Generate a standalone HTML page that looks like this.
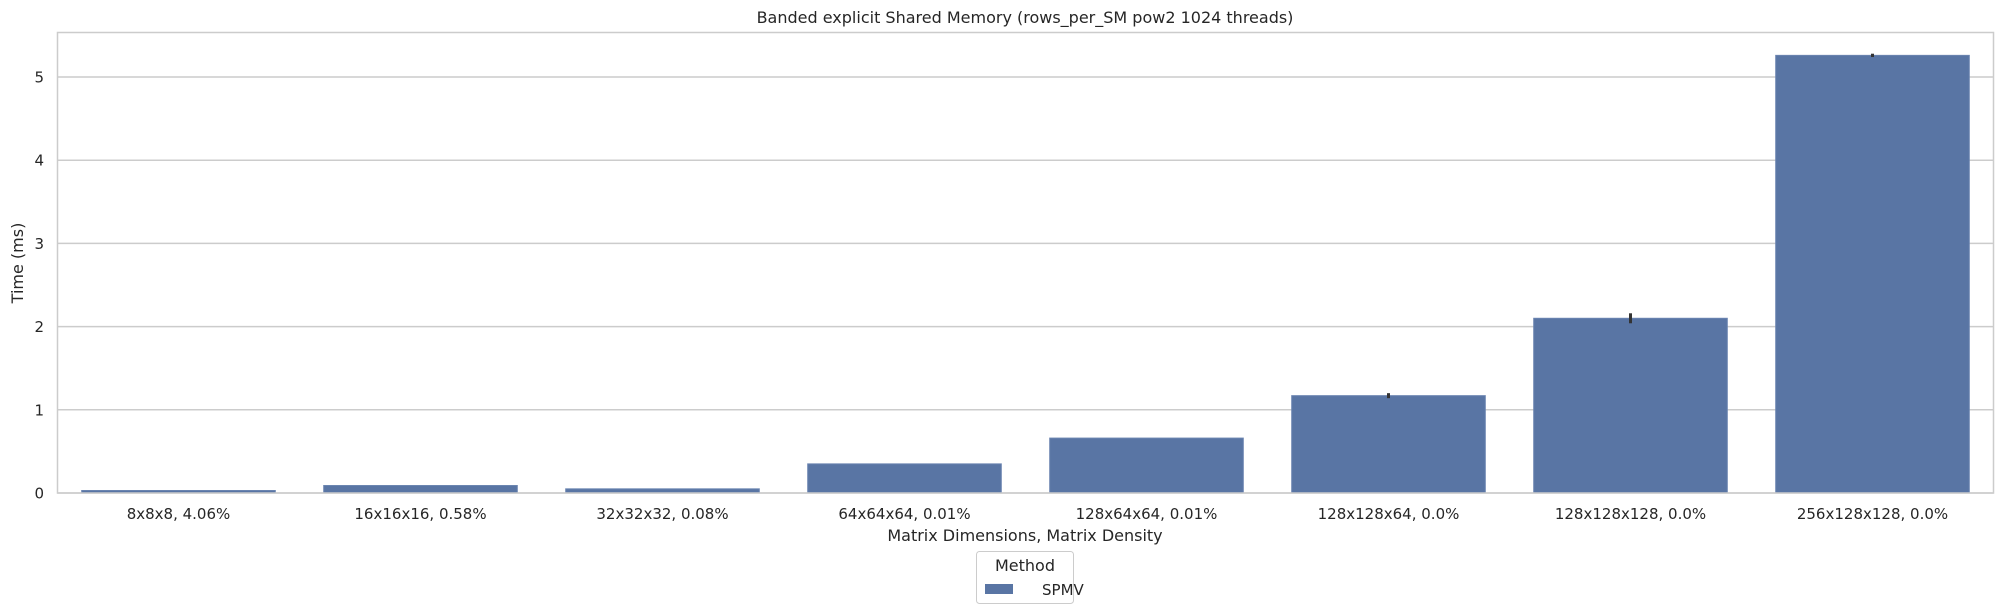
<!DOCTYPE html>
<html><head><meta charset="utf-8"><style>
body{margin:0;background:#fff;}
svg{display:block;font-family:"DejaVu Sans","Liberation Sans",sans-serif;}
</style></head><body>
<svg width="2004" height="614" xmlns="http://www.w3.org/2000/svg" id="chart">
<rect x="0" y="0" width="2004" height="614" fill="#fff"/>
<g id="grid"></g><g id="bars"></g><g id="labels"></g>
<rect x="57.5" y="32.5" width="1936" height="460.5" fill="none" stroke="#cccccc" stroke-width="1.5"/>
<text x="1025" y="23" text-anchor="middle" font-size="16" fill="#262626">Banded explicit Shared Memory (rows_per_SM pow2 1024 threads)</text>
<text x="1025" y="541" text-anchor="middle" font-size="16" fill="#262626">Matrix Dimensions, Matrix Density</text>
<text transform="translate(23,263) rotate(-90)" text-anchor="middle" font-size="16" fill="#262626">Time (ms)</text>
<g>
<rect x="976.5" y="551.5" width="97" height="52" rx="3" fill="#fff" stroke="#cccccc"/>
<text x="1025" y="571" text-anchor="middle" font-size="16" fill="#262626">Method</text>
<rect x="985" y="584" width="28" height="10" fill="#5975a4"/>
<text x="1042" y="595" font-size="15" fill="#262626">SPMV</text>
</g>
</svg>
<script>
const categories=["8x8x8, 4.06%","16x16x16, 0.58%","32x32x32, 0.08%","64x64x64, 0.01%","128x64x64, 0.01%","128x128x64, 0.0%","128x128x128, 0.0%","256x128x128, 0.0%"];
const values=[0.03,0.09,0.05,0.35,0.66,1.17,2.10,5.26];
const errors=[0,0,0,0,0,0.03,0.06,0.02];
const yTicks=[0,1,2,3,4,5];
const NS="http://www.w3.org/2000/svg";
const L=57.5,R=1993.5,B=493,PU=83.2;
const slot=(R-L)/categories.length;
function x(i){return L+slot*(i+0.5);}
function y(v){return B-v*PU;}
const grid=document.getElementById('grid'),bars=document.getElementById('bars'),labels=document.getElementById('labels');
function mk(tag,attrs,parent){const e=document.createElementNS(NS,tag);for(const k in attrs)e.setAttribute(k,attrs[k]);parent.appendChild(e);return e;}
yTicks.forEach(t=>{
  const g=mk('line',{x1:L,x2:R,y1:y(t),y2:y(t),stroke:'#cccccc','stroke-width':1.5},grid);
  
  
  const tx=mk('text',{x:44,y:y(t)+5.5,'text-anchor':'end','font-size':15,fill:'#262626'},labels);
  tx.textContent=t;
  
  
});
categories.forEach((c,i)=>{
  const w=slot*0.8,v=values[i];
  const r=mk('rect',{x:x(i)-w/2,y:y(v),width:w,height:B-y(v),fill:'#5975a4',stroke:'#6a84b0','stroke-width':1},bars);
  
  
  if(errors[i]>0){
    const e=mk('line',{x1:x(i),x2:x(i),y1:y(v+errors[i]),y2:y(v-errors[i]),stroke:'#333','stroke-width':3},bars);
    
    
  }
  const t=mk('text',{x:x(i),y:519,'text-anchor':'middle','font-size':15,fill:'#262626'},labels);
  t.textContent=c;
  
  
});
</script>
</body></html>
